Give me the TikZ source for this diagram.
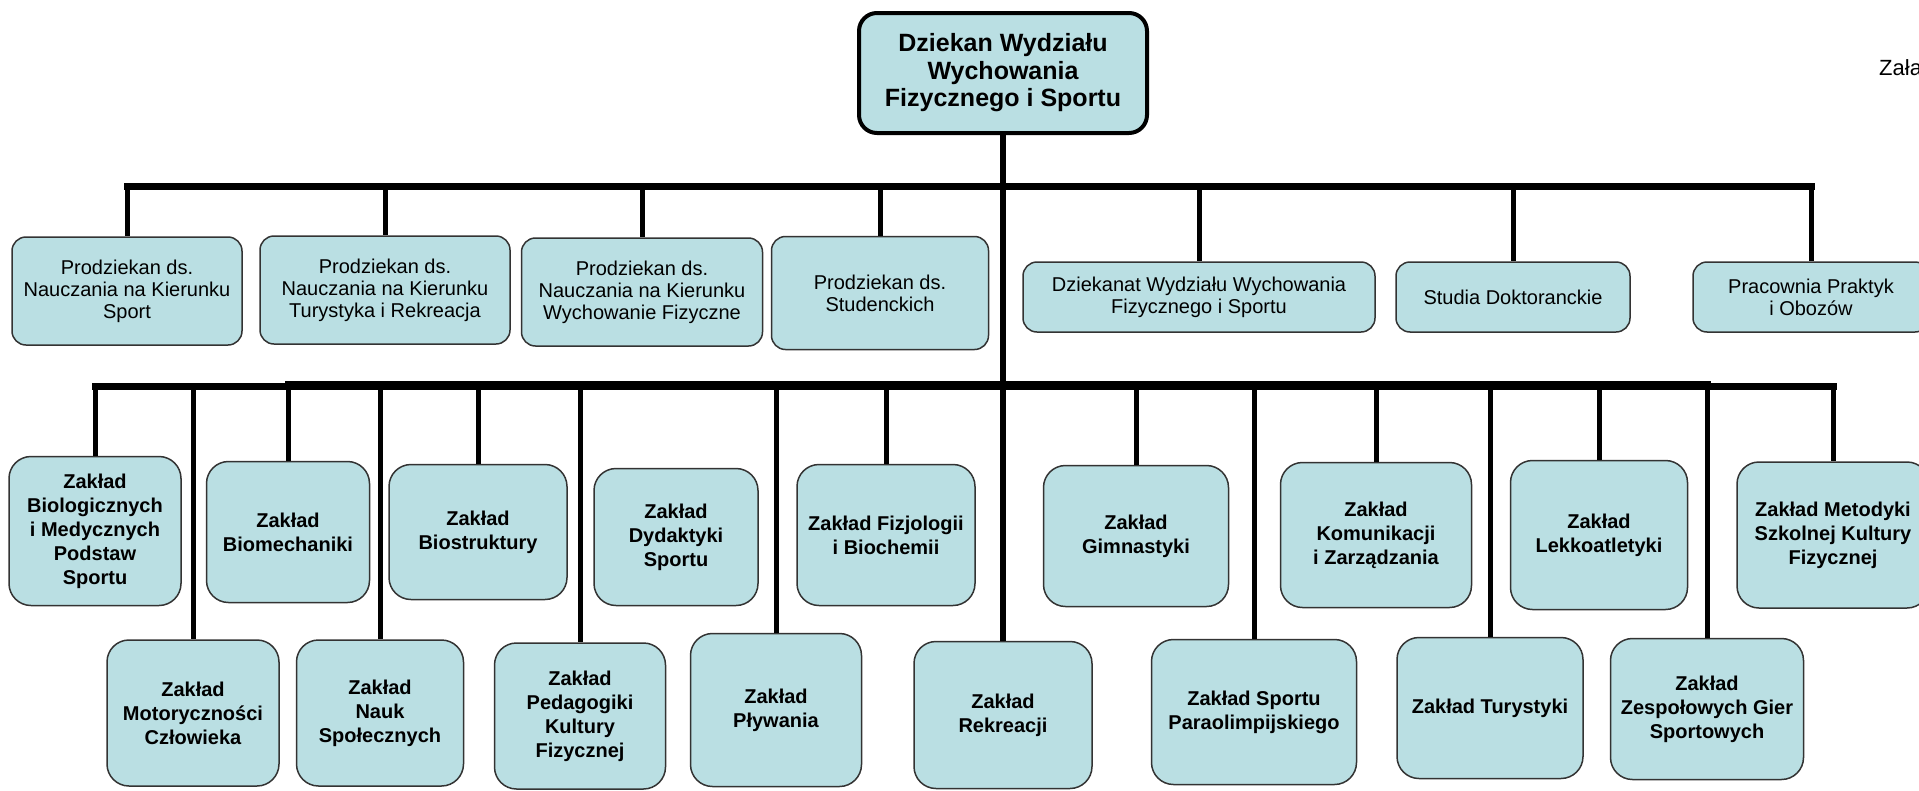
\documentclass[tikz,border=0pt]{standalone}
\usepackage{fontspec}
\setmainfont{Liberation Sans}
\definecolor{boxfill}{RGB}{186,223,227}

\begin{document}
\begin{tikzpicture}[x=1pt,y=-1pt,
    unit/.style={draw=black!80, line width=1.5pt, fill=boxfill, rounded corners=14pt,
      align=center, inner sep=0pt, font=\fontsize{20}{22}\selectfont},
    dept/.style={unit, rounded corners=22pt, font=\bfseries\fontsize{20}{24}\selectfont},
    dean/.style={unit, draw=black, line width=4pt, rounded corners=18pt,
      font=\bfseries\fontsize{25}{27.5}\selectfont},
    bus/.style={line width=7pt, line cap=rect},
    drop/.style={line width=5pt}]
        \useasboundingbox (0,0) rectangle (1919,790);
        \node[dean, minimum width=288pt, minimum height=120pt] (dz) at (1003,73) {Dziekan Wydziału\\Wychowania\\Fizycznego i Sportu};
        \node[anchor=west, inner sep=0pt, font=\fontsize{22}{24}\selectfont] (zal) at (1879,68) {Zała};
        % prodziekani i jednostki
        \node[unit, minimum width=230pt, minimum height=108pt] (p1) at (127,291) {Prodziekan ds.\\Nauczania na Kierunku\\Sport};
        \node[unit, minimum width=250pt, minimum height=108pt] (p2) at (385,290) {Prodziekan ds.\\Nauczania na Kierunku\\Turystyka i Rekreacja};
        \node[unit, minimum width=241pt, minimum height=108pt] (p3) at (642,292) {Prodziekan ds.\\Nauczania na Kierunku\\Wychowanie Fizyczne};
        \node[unit, minimum width=217pt, minimum height=113pt] (p4) at (880,293) {Prodziekan ds.\\Studenckich};
        \node[unit, minimum width=352pt, minimum height=70pt] (p5) at (1199,297) {Dziekanat Wydziału Wychowania\\Fizycznego i Sportu};
        \node[unit, minimum width=234pt, minimum height=70pt] (p6) at (1513,297) {Studia Doktoranckie};
        \node[unit, minimum width=236pt, minimum height=70pt] (p7) at (1811,297) {Pracownia Praktyk\\i Obozów};
        % zaklady, gorny rzad
        \node[dept, minimum width=172pt, minimum height=149pt] (z1) at (95,531) {Zakład\\Biologicznych\\i Medycznych\\Podstaw\\Sportu};
        \node[dept, minimum width=163pt, minimum height=141pt] (z2) at (288,532) {Zakład\\Biomechaniki};
        \node[dept, minimum width=178pt, minimum height=135pt] (z3) at (478,532) {Zakład\\Biostruktury};
        \node[dept, minimum width=164pt, minimum height=137pt] (z4) at (676,537) {Zakład\\Dydaktyki\\Sportu};
        \node[dept, minimum width=178pt, minimum height=141pt] (z5) at (886,535) {Zakład Fizjologii\\i Biochemii};
        \node[dept, minimum width=185pt, minimum height=141pt] (z6) at (1136,536) {Zakład\\Gimnastyki};
        \node[dept, minimum width=191pt, minimum height=145pt] (z7) at (1376,535) {Zakład\\Komunikacji\\i Zarządzania};
        \node[dept, minimum width=177pt, minimum height=149pt] (z8) at (1599,535) {Zakład\\Lekkoatletyki};
        \node[dept, minimum width=192pt, minimum height=146pt] (z9) at (1833,535) {Zakład Metodyki\\Szkolnej Kultury\\Fizycznej};
        % zaklady, dolny rzad
        \node[dept, minimum width=172pt, minimum height=146pt] (b1) at (193,713) {Zakład\\Motoryczności\\Człowieka};
        \node[dept, minimum width=167pt, minimum height=146pt] (b2) at (380,713) {Zakład\\Nauk\\Społecznych};
        \node[dept, minimum width=171pt, minimum height=146pt] (b3) at (580,716) {Zakład\\Pedagogiki\\Kultury\\Fizycznej};
        \node[dept, minimum width=171pt, minimum height=153pt] (b4) at (776,710) {Zakład\\Pływania};
        \node[dept, minimum width=178pt, minimum height=147pt] (b5) at (1003,715) {Zakład\\Rekreacji};
        \node[dept, minimum width=205pt, minimum height=145pt] (b6) at (1254,712) {Zakład Sportu\\Paraolimpijskiego};
        \node[dept, minimum width=186pt, minimum height=141pt] (b7) at (1490,708) {Zakład Turystyki};
        \node[dept, minimum width=193pt, minimum height=141pt] (b8) at (1707,709) {Zakład\\Zespołowych Gier\\Sportowych};
        % polaczenia
        \coordinate (ub) at (0,186);
        \coordinate (lb) at (0,386);
        \coordinate (lb2) at (0,384);
        \draw[line width=6pt] (dz.south) -- (b5.north);
        \draw[bus] (p1.north |- ub) -- (p7.north |- ub);
        \foreach \n in {p1,p2,p3,p4,p5,p6,p7}
          \draw[drop] (\n.north |- ub) -- (\n.north);
        \draw[bus] (z1.north |- lb) -- (z9.north |- lb);
        \draw[bus] (z2.north |- lb2) -- (b8.north |- lb2);
        \foreach \n in {z1,z2,z3,z5,z6,z7,z8,z9,b1,b2,b3,b4,b6,b7,b8}
          \draw[drop] (\n.north |- lb) -- (\n.north);
      \end{tikzpicture}
\end{document}
